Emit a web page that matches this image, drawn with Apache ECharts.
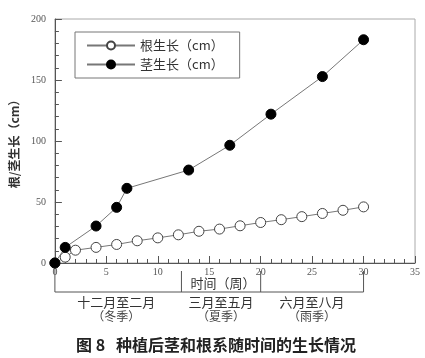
<!DOCTYPE html>
<html><head><meta charset="utf-8">
<script src="https://cdn.jsdelivr.net/npm/echarts@6/dist/echarts.min.js"></script>
<style>html,body{margin:0;padding:0;background:#fff}#c{width:425px;height:358px}</style>
</head><body><div id="c"></div>
<script>
var rootWeeks = [0,1,2,4,6,8,10,12,14,16,18,20,22,24,26,28,30];
var rootValues = [0,4.8,10.5,12.8,15.2,18.2,20.6,23.1,26,27.8,30.5,33.2,35.5,38,40.6,43.2,46];
var stemWeeks = [0,1,4,6,7,13,17,21,26,30];
var stemValues = [0,12.8,30.3,45.6,61.2,76.2,96.5,122,152.8,183];
var seasonBounds = [0,12.3,20,30];
var seasonNames = ['十二月至二月','三月至五月','六月至八月'];
var seasonSub = ['（冬季）','（夏季）','（雨季）'];
var xTitle = '时间（周）';
var yTitle = '根/茎生长（cm）';
var caption = '图 8   种植后茎和根系随时间的生长情况';
var legendNames = ['根生长（cm）','茎生长（cm）'];

var serif = '"Liberation Serif","Noto Sans CJK SC",serif';
var cjk = '"Noto Sans CJK SC",sans-serif';
var chart = echarts.init(document.getElementById('c'), null, {renderer:'canvas'});
function zip(a,b){return a.map(function(v,i){return [v,b[i]];});}
var axisCommon = {
  axisLine:{show:true,lineStyle:{color:'#555',width:1}},
  axisTick:{show:true,inside:true,length:7,lineStyle:{color:'#555'}},
  minorTick:{show:true,splitNumber:5,length:4,lineStyle:{color:'#555'}},
  splitLine:{show:false},
  axisLabel:{color:'#555',fontFamily:serif,fontSize:10}
};
chart.setOption({
  animation:false,
  backgroundColor:'#fff',
  grid:{left:54,right:10,top:19,bottom:95,show:true,borderColor:'#aaa',borderWidth:1},
  legend:{
    orient:'vertical',left:75,top:32,itemWidth:48,itemHeight:10,itemGap:6,
    padding:[7,16,7,11],borderColor:'#777',borderWidth:1,
    textStyle:{fontFamily:cjk,fontSize:13,color:'#333'},
    data:legendNames
  },
  xAxis:Object.assign({type:'value',min:0,max:35,interval:5},axisCommon,{
    axisLabel:{color:'#555',fontFamily:serif,fontSize:10,margin:4}}),
  yAxis:Object.assign({type:'value',min:0,max:200,interval:50},axisCommon,{
    name:yTitle,nameLocation:'middle',nameGap:31,
    nameTextStyle:{fontFamily:cjk,fontSize:12,fontWeight:'bold',color:'#333'},
    axisLabel:{color:'#555',fontFamily:serif,fontSize:10,margin:9}}),
  series:[
    {name:legendNames[0],type:'line',data:zip(rootWeeks,rootValues),symbol:'circle',symbolSize:10,
     lineStyle:{color:'#777',width:1},itemStyle:{color:'#fff',borderColor:'#444',borderWidth:1},z:3},
    {name:legendNames[1],type:'line',data:zip(stemWeeks,stemValues),symbol:'circle',symbolSize:10,
     lineStyle:{color:'#777',width:1},itemStyle:{color:'#000',borderColor:'#000',borderWidth:1},z:4}
  ]
});
function px(x,y){return chart.convertToPixel({gridIndex:0},[x,y]);}
var p0 = px(0,0);
var baseY = p0[1];
var lineY = baseY + 29;
var g = [];
var ls = {stroke:'#555',lineWidth:1};
var pl = px(seasonBounds[0],0)[0], pr = px(seasonBounds[seasonBounds.length-1],0)[0];
g.push({type:'line',shape:{x1:pl,y1:lineY,x2:pr,y2:lineY},style:ls,silent:true});
g.push({type:'line',shape:{x1:pl,y1:baseY,x2:pl,y2:lineY},style:ls,silent:true});
for (var i=1;i<seasonBounds.length;i++){
  var xx = px(seasonBounds[i],0)[0];
  g.push({type:'line',shape:{x1:xx,y1:baseY+8,x2:xx,y2:lineY},style:ls,silent:true});
}
for (var j=0;j<seasonNames.length;j++){
  var cx = (px(seasonBounds[j],0)[0]+px(seasonBounds[j+1],0)[0])/2;
  if (j===0) cx -= 2;
  g.push({type:'text',x:cx,y:lineY+10,style:{text:seasonNames[j],align:'center',verticalAlign:'middle',font:'13px '+cjk,fill:'#333'},silent:true});
  g.push({type:'text',x:cx,y:lineY+24,style:{text:seasonSub[j],align:'center',verticalAlign:'middle',font:'12px '+cjk,fill:'#444'},silent:true});
}
var tx = (px(seasonBounds[1],0)[0]+px(seasonBounds[2],0)[0])/2;
g.push({type:'text',x:tx+2,y:baseY+20,style:{text:xTitle,align:'center',verticalAlign:'middle',font:'13px '+cjk,fill:'#333'},silent:true});
g.push({type:'text',x:216,y:345,style:{text:caption,align:'center',verticalAlign:'middle',font:'bold 16px '+cjk,fill:'#222'},silent:true});
chart.setOption({graphic:g});
</script></body></html>
